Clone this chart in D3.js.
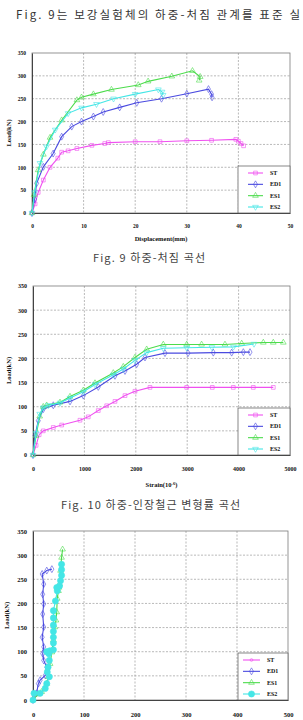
<!DOCTYPE html>
<meta charset="utf-8">
<script src="https://d3js.org/d3.v7.min.js"></script>
<style>
  body { margin: 0; background: #fff; }
  text { font-family: "Liberation Serif", "DejaVu Serif", serif; }
  .kr { font-family: "Noto Sans CJK KR", "Noto Sans", sans-serif; }
</style>
<svg id="page" width="303" height="720"></svg>
<script>
// ---- tick labels ----
var loadTicks = [0, 50, 100, 150, 200, 250, 300, 350];
var dispTicks = [0, 10, 20, 30, 40, 50];
var strainTicks = [0, 1000, 2000, 3000, 4000, 5000];
var strain2Ticks = [0, 100, 200, 300, 400, 500];
var seriesNames = ["ST", "ED1", "ES1", "ES2"];

// ---- Fig. 9 load - displacement (mm, kN) ----
var f9ST = [[0,0],[0.6,20],[1.2,45],[2.2,72],[3.5,100],[5,120],[5.75,133],[7,136],[8.7,141],[11.6,148],[14.1,152],[14.8,154],[20,156],[24.8,156],[30,158],[34.8,159],[39.5,161],[40,157],[40.5,152],[41,147]];
var f9ED1 = [[0,0],[0.5,30],[0.9,65],[2.2,101],[4.1,130],[5.75,167],[7.7,189],[9.6,200],[11.9,211],[13.8,221],[17,231],[20.3,241],[25.1,250],[30,261],[34.2,271],[34.8,260],[34.9,253]];
var f9ES1 = [[0,0],[0.4,40],[1.2,94],[2.2,128],[3.5,165],[5.75,203],[8.7,247],[9.6,253],[11.9,260],[15.4,270],[20.6,280],[22.5,288],[27.1,299],[31.1,311],[32.6,298],[32.4,290]];
var f9ES2 = [[0,0],[0.5,45],[1.55,109],[2.8,145],[4.5,182],[7,218],[9.6,230],[12.5,238],[15.8,250],[20,260],[24.5,270],[25.2,265],[25.4,258]];

// ---- Fig. 10 load - tension steel strain (10^-6, kN) ----
var f10ST = [[0,0],[60,20],[120,42],[200,50],[395,57],[558,62],[914,72],[1075,79],[1270,92],[1434,102],[1595,111],[1790,123],[1984,132],[2276,140],[2990,140],[3488,140],[3897,140],[4286,140],[4675,140]];
var f10ED1 = [[0,0],[39,40],[103,71],[200,95],[395,103],[720,111],[979,123],[1270,141],[1595,164],[1790,174],[2017,188],[2179,202],[2568,211],[3016,211],[3508,212],[3865,212],[4092,213],[4222,213]];
var f10ES1 = [[0,0],[60,40],[130,80],[200,100],[266,103],[525,109],[720,121],[979,134],[1206,149],[1562,170],[1757,183],[1984,202],[2212,219],[2535,229],[2990,229],[3280,229],[3735,229],[4060,231],[4481,233],[4675,233],[4870,233]];
var f10ES2 = [[0,0],[60,45],[130,85],[200,98],[300,103],[525,108],[720,118],[979,131],[1206,146],[1562,166],[1757,178],[1984,196],[2212,212],[2535,221],[2990,222],[3480,223],[3900,224],[4300,230]];

// ---- third figure: load - strain (10^-6, kN) ----
var f11ED1 = [[0,0],[3,10],[7,14],[10.5,34],[14,41],[24,51],[27,68],[21,82],[19,96],[21,110],[18,130],[21,151],[19,178],[21,199],[19,219],[21,240],[18,261],[27,268],[37,271]];
var f11ES1 = [[0,0],[10,12],[17,17],[27,34],[30,48],[33.5,75],[37,99],[40,124],[43,151],[45,165],[46.5,182],[47.5,210],[50,226],[51,233],[52,240],[54,268],[56,295],[58,312]];
var f11ES2 = [[0,0],[2,14],[14,14],[24,24],[27,34],[32,48],[28,58],[29.5,68],[32,82],[31,96],[27,100],[33,102],[40,104],[40,118],[40,130],[40,142],[40,155],[40,170],[40,185],[44,205],[47.6,226],[46.6,233],[52,236],[54,247],[56,258],[56,270],[56,281]];

var color = { ST: "#f050f0", ED1: "#4a4ae0", ES1: "#4cdc4c", ES2: "#44e6e6" };

var svg = d3.select("#page");

// running text at the top of the page
svg.append("text").attr("class", "kr")
  .attr("x", 16).attr("y", 19)
  .attr("textLength", 284).attr("lengthAdjust", "spacing")
  .style("font-size", "11.5px").attr("fill", "#333")
  .text("Fig. 9는 보강실험체의 하중-처짐 관계를 표준 실");

function symbolFor(name, panel) {
  if (name === "ST") return panel.stDot ? d3.symbol(d3.symbolCircle, 6) : d3.symbol(d3.symbolSquare, 14);
  if (name === "ED1") return d3.symbol(d3.symbolDiamond, 14);
  if (name === "ES1") return d3.symbol(d3.symbolTriangle, 14);
  return panel.es2Dot ? d3.symbol(d3.symbolCircle, 30) : d3.symbol(d3.symbolTriangle, 14);
}

function addMarkers(sel, name, panel) {
  sel.attr("d", symbolFor(name, panel)())
    .attr("fill", (name === "ES2" && panel.es2Dot) ? color.ES2 : "none")
    .attr("stroke", color[name])
    .attr("stroke-width", 0.6);
}

function drawPanel(p) {
  var x = d3.scaleLinear().domain(p.xDomain).range([p.left, p.right]);
  var y = d3.scaleLinear().domain([0, 350]).range([p.bottom, p.top]);
  var g = svg.append("g");

  // dashed grid
  g.append("g").selectAll("line").data(p.xTicks.slice(1, -1)).join("line")
    .attr("x1", d => x(d)).attr("x2", d => x(d))
    .attr("y1", p.top).attr("y2", p.bottom)
    .attr("stroke", "#8a8a8a").attr("stroke-width", 0.6).attr("stroke-dasharray", "2,1.5");
  g.append("g").selectAll("line").data(loadTicks.slice(1, -1)).join("line")
    .attr("y1", d => y(d)).attr("y2", d => y(d))
    .attr("x1", p.left).attr("x2", p.right)
    .attr("stroke", "#8a8a8a").attr("stroke-width", 0.6).attr("stroke-dasharray", "2,1.5");

  // frame
  g.append("rect").attr("x", p.left).attr("y", p.top)
    .attr("width", p.right - p.left).attr("height", p.bottom - p.top)
    .attr("fill", "none").attr("stroke", "#7a7a7a").attr("stroke-width", 0.8);

  // axes
  var ax = g.append("g").attr("transform", "translate(0," + p.bottom + ")")
    .call(d3.axisBottom(x).tickValues(p.xTicks).tickSize(0).tickPadding(p.xPad).tickFormat(d3.format("d")));
  var ay = g.append("g").attr("transform", "translate(" + p.left + ",0)")
    .call(d3.axisLeft(y).tickValues(loadTicks).tickSize(0).tickPadding(6).tickFormat(d3.format("d")));
  [ax, ay].forEach(function (a) {
    a.select(".domain").attr("stroke", "#333").attr("stroke-width", 0.9);
    a.selectAll("text").attr("fill", "#111").style("font-weight", "bold")
      .style("font-size", p.fs + "px").style("font-family", "Liberation Serif, serif");
  });

  // axis titles
  g.append("text")
    .attr("transform", "translate(" + p.yTitleX + "," + ((p.top + p.bottom) / 2) + ") rotate(-90)")
    .attr("text-anchor", "middle").style("font-weight", "bold").style("font-size", "6.5px")
    .attr("fill", "#111").text("Load(kN)");
  if (p.xTitle) {
    var t = g.append("text").attr("x", (p.left + p.right) / 2).attr("y", p.xTitleY)
      .attr("text-anchor", "middle").style("font-weight", "bold").style("font-size", "6.5px")
      .attr("fill", "#111");
    t.append("tspan").text(p.xTitle);
    if (p.xTitleSup) {
      t.append("tspan").attr("dy", -2.5).style("font-size", "4.5px").text(p.xTitleSup);
      t.append("tspan").attr("dy", 2.5).text(")");
    }
  }

  // series
  var line = d3.line().x(d => x(d[0])).y(d => y(d[1]));
  p.series.forEach(function (s) {
    g.append("path").datum(s.data)
      .attr("d", line).attr("fill", "none")
      .attr("stroke", color[s.name]).attr("stroke-width", 1.1);
    g.append("g").selectAll("path").data(s.data).join("path")
      .attr("transform", d => "translate(" + x(d[0]) + "," + y(d[1]) + ")" + (s.name === "ES2" && !p.es2Dot ? " rotate(180)" : ""))
      .call(addMarkers, s.name, p);
  });

  // legend
  var lg = g.append("g");
  lg.append("rect").attr("x", p.right - p.legW).attr("y", p.bottom - 47)
    .attr("width", p.legW).attr("height", 47)
    .attr("fill", "#fff").attr("stroke", "#555").attr("stroke-width", 0.7);
  var ly = d3.scalePoint().domain(seriesNames).range([p.bottom - 40, p.bottom - 6]);
  seriesNames.forEach(function (n) {
    var x0 = p.right - p.legW + p.legLine[0], x1 = p.right - p.legW + p.legLine[1];
    lg.append("line").attr("x1", x0).attr("x2", x1).attr("y1", ly(n)).attr("y2", ly(n))
      .attr("stroke", color[n]).attr("stroke-width", 1.1);
    lg.append("path").attr("transform", "translate(" + ((x0 + x1) / 2) + "," + ly(n) + ")" + (n === "ES2" && !p.es2Dot ? " rotate(180)" : ""))
      .call(addMarkers, n, p);
    lg.append("text").attr("x", x1 + 7).attr("y", ly(n) + 2)
      .style("font-weight", "bold").style("font-size", "6px").attr("fill", "#111").text(n);
  });

  // caption
  if (p.caption) {
    svg.append("text").attr("class", "kr")
      .attr("x", p.capX).attr("y", p.capY)
      .attr("textLength", p.capW).attr("lengthAdjust", "spacing")
      .style("font-size", "11px").attr("fill", "#444").text(p.caption);
  }
}

drawPanel({
  left: 32, right: 290, top: 53, bottom: 213, xDomain: [0, 50], xTicks: dispTicks,
  xPad: 11, fs: 5.5, yTitleX: 11, xTitle: "Displacement(mm)", xTitleY: 241,
  legW: 52, legLine: [10, 25],
  series: [{ name: "ST", data: f9ST }, { name: "ED1", data: f9ED1 }, { name: "ES1", data: f9ES1 }, { name: "ES2", data: f9ES2 }],
  caption: "Fig. 9 하중-처짐 곡선", capX: 93, capY: 262, capW: 112
});

drawPanel({
  left: 33, right: 290, top: 286, bottom: 455, xDomain: [0, 5000], xTicks: strainTicks,
  xPad: 12, fs: 6, yTitleX: 11, xTitle: "Strain(10", xTitleSup: "-6", xTitleY: 487,
  legW: 52, legLine: [10, 25],
  series: [{ name: "ST", data: f10ST }, { name: "ED1", data: f10ED1 }, { name: "ES1", data: f10ES1 }, { name: "ES2", data: f10ES2 }],
  caption: "Fig. 10 하중-인장철근 변형률 곡선", capX: 61, capY: 509, capW: 179
});

drawPanel({
  left: 33, right: 288, top: 531, bottom: 700, xDomain: [0, 500], xTicks: strain2Ticks,
  xPad: 12, fs: 6.5, yTitleX: 9, xTitle: null,
  legW: 50, legLine: [5, 22], stDot: true, es2Dot: true,
  series: [{ name: "ED1", data: f11ED1 }, { name: "ES1", data: f11ES1 }, { name: "ES2", data: f11ES2 }]
});
</script>
